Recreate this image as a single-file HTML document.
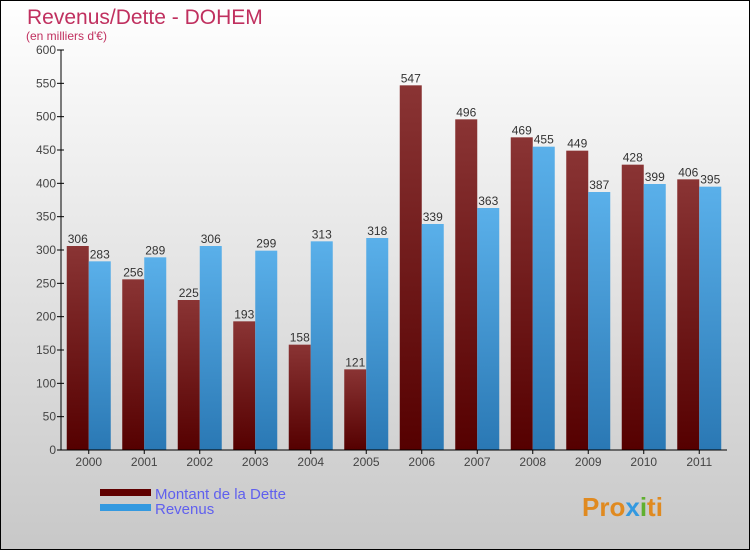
<!DOCTYPE html>
<html><head><meta charset="utf-8"><style>
body{margin:0}
#c{width:750px;height:550px;position:relative;box-sizing:border-box;border:1px solid #000;background:linear-gradient(#fff,#c8c8c8);font-family:"Liberation Sans",sans-serif;overflow:hidden}
</style></head><body>
<div id="c">
<svg id="s" width="750" height="550" style="position:absolute;left:-1px;top:-1px">
<defs>
<linearGradient id="gd" x1="0" y1="0" x2="0" y2="1"><stop offset="0" stop-color="#8a3434"/><stop offset="1" stop-color="#550000"/></linearGradient>
<linearGradient id="gb" x1="0" y1="0" x2="0" y2="1"><stop offset="0" stop-color="#5ab0ea"/><stop offset="1" stop-color="#2a78b4"/></linearGradient>
</defs>
<text x="27" y="24" font-size="21" fill="#c0305f">Revenus/Dette - DOHEM</text>
<text x="26" y="40" font-size="12" fill="#c0305f">(en milliers d'€)</text>
<rect x="100" y="489" width="51" height="7" fill="#600000"/>
<text x="155" y="499" font-size="15" fill="#6060ee">Montant de la Dette</text>
<rect x="100" y="504" width="51" height="7" fill="#3399e0"/>
<text x="155" y="514" font-size="15" fill="#6060ee">Revenus</text>
<text x="582" y="516" font-size="26" font-weight="bold" fill="#e08a20">Pro<tspan fill="#3399e0">x</tspan><tspan fill="#60b030">i</tspan>ti</text>
</svg>
</div>
<script>
const years=["2000","2001","2002","2003","2004","2005","2006","2007","2008","2009","2010","2011"];
const dette=[306,256,225,193,158,121,547,496,469,449,428,406];
const revenus=[283,289,306,299,313,318,339,363,455,387,399,395];
const yTicks=[0,50,100,150,200,250,300,350,400,450,500,550,600];
const s=document.getElementById('s');const NS='http://www.w3.org/2000/svg';
const x0=61,x1=727,y0=450,y1=50,ymax=600;
const step=(x1-x0)/years.length,bw=22;
const yS=v=>y0-(v/ymax)*(y0-y1);
function mk(t,a,txt){const e=document.createElementNS(NS,t);for(const k in a)e.setAttribute(k,a[k]);if(txt!==undefined)e.textContent=txt;s.appendChild(e);return e;}
yTicks.forEach(v=>{
 const l=mk('line',{x1:x0-4,x2:x0+3,y1:yS(v),y2:yS(v),stroke:'#000'});
 
 
 const t=mk('text',{x:x0-5,y:yS(v)+4,'font-size':12,fill:'#444','text-anchor':'end'},v);
 
 
});
years.forEach((y,i)=>{
 const cx=x0+step*(i+0.5);
 const d=mk('rect',{x:cx-bw,y:yS(dette[i]),width:bw,height:y0-yS(dette[i]),fill:'url(#gd)'});
 
 
 const r=mk('rect',{x:cx,y:yS(revenus[i]),width:bw,height:y0-yS(revenus[i]),fill:'url(#gb)'});
 
 
 const t1=mk('text',{x:cx-bw/2,y:yS(dette[i])-3,'font-size':12,fill:'#333','text-anchor':'middle'},dette[i]);
 
 
 const t2=mk('text',{x:cx+bw/2,y:yS(revenus[i])-3,'font-size':12,fill:'#333','text-anchor':'middle'},revenus[i]);
 
 
 const tk=mk('line',{x1:cx,x2:cx,y1:y0,y2:y0+4,stroke:'#000'});
 
 
 const xl=mk('text',{x:cx,y:y0+16,'font-size':12,fill:'#444','text-anchor':'middle'},y);
 
 
});
const ax=mk('line',{x1:x0,x2:x0,y1:y1,y2:y0,stroke:'#000'});


const axx=mk('line',{x1:x0-4,x2:x1,y1:y0,y2:y0,stroke:'#000'});


</script>
</body></html>
